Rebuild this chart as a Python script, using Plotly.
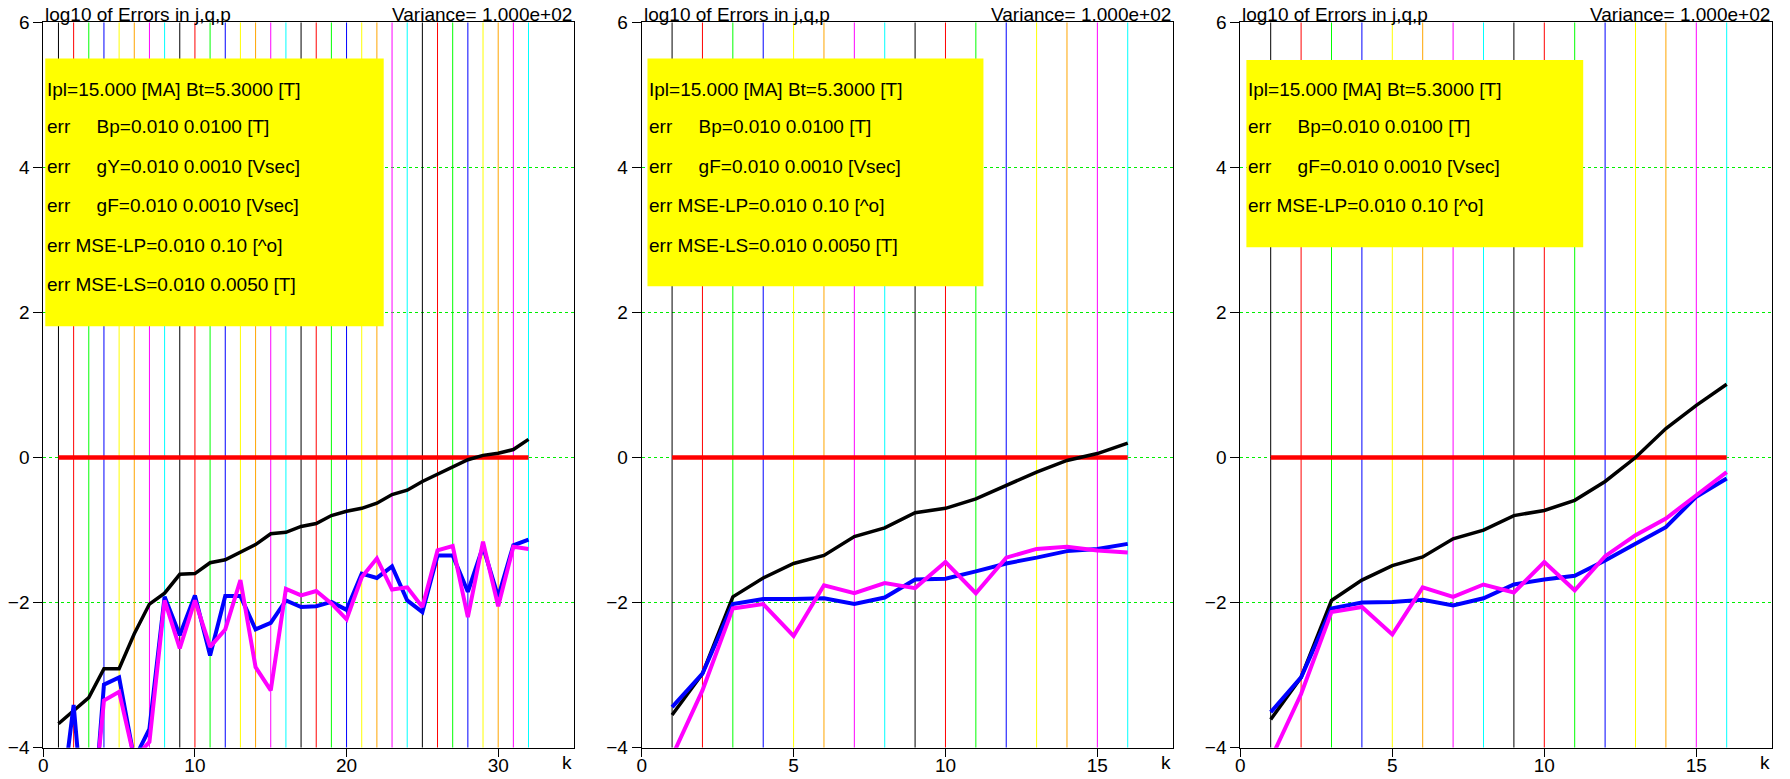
import plotly.graph_objects as go

# ---------------- data ----------------
K1 = list(range(1, 33))
K2 = list(range(1, 17))
K3 = list(range(1, 17))

BLACK1 = [-3.67, -3.49, -3.31, -2.91, -2.91, -2.43, -2.02, -1.87, -1.61, -1.60, -1.45, -1.41,
          -1.30, -1.20, -1.05, -1.03, -0.95, -0.91, -0.80, -0.74, -0.70, -0.63, -0.51, -0.45,
          -0.33, -0.23, -0.13, -0.03, 0.03, 0.06, 0.11, 0.25]
BLUE1 = [-5.1, -3.41, -5.8, -3.13, -3.03, -4.16, -3.74, -1.92, -2.45, -1.90, -2.73, -1.91,
         -1.91, -2.37, -2.28, -1.97, -2.06, -2.05, -1.99, -2.10, -1.60, -1.66, -1.50, -1.97,
         -2.13, -1.35, -1.35, -1.85, -1.23, -1.92, -1.21, -1.13]
MAG1 = [-5.5, -4.8, -5.5, -3.35, -3.23, -4.15, -3.92, -1.97, -2.63, -1.97, -2.61, -2.37,
        -1.69, -2.89, -3.21, -1.81, -1.90, -1.84, -2.01, -2.23, -1.65, -1.39, -1.82, -1.79,
        -2.06, -1.28, -1.22, -2.20, -1.16, -2.05, -1.23, -1.26]

BLACK2 = [-3.55, -2.98, -1.92, -1.66, -1.46, -1.35, -1.09, -0.97, -0.76, -0.70, -0.57, -0.38,
          -0.20, -0.04, 0.055, 0.20]
BLUE2 = [-3.44, -2.98, -2.02, -1.95, -1.95, -1.94, -2.02, -1.93, -1.68, -1.67, -1.57, -1.46,
         -1.38, -1.29, -1.26, -1.19]
MAG2 = [-4.12, -3.21, -2.08, -2.02, -2.46, -1.76, -1.87, -1.73, -1.80, -1.44, -1.87, -1.38,
        -1.26, -1.23, -1.28, -1.31]

BLACK3 = [-3.61, -3.03, -1.97, -1.69, -1.49, -1.37, -1.12, -1.00, -0.80, -0.73, -0.59, -0.33,
          0.0, 0.40, 0.72, 1.01]
BLUE3 = [-3.51, -3.03, -2.08, -2.00, -1.99, -1.96, -2.04, -1.94, -1.75, -1.68, -1.63, -1.42,
         -1.19, -0.96, -0.54, -0.29]
MAG3 = [-4.16, -3.26, -2.13, -2.06, -2.44, -1.79, -1.92, -1.75, -1.86, -1.44, -1.83, -1.36,
        -1.07, -0.84, -0.52, -0.20]

REF_LEVEL = 0.0

TITLE_LEFT = "log10 of Errors in j,q,p"
TITLE_RIGHT = "Variance= 1.000e+02"
NB = "\u00a0"
INFO1 = ["Ipl=15.000 [MA] Bt=5.3000 [T]",
         "err" + NB * 5 + "Bp=0.010 0.0100 [T]",
         "err" + NB * 5 + "gY=0.010 0.0010 [Vsec]",
         "err" + NB * 5 + "gF=0.010 0.0010 [Vsec]",
         "err MSE-LP=0.010 0.10 [^o]",
         "err MSE-LS=0.010 0.0050 [T]"]
INFO2 = ["Ipl=15.000 [MA] Bt=5.3000 [T]",
         "err" + NB * 5 + "Bp=0.010 0.0100 [T]",
         "err" + NB * 5 + "gF=0.010 0.0010 [Vsec]",
         "err MSE-LP=0.010 0.10 [^o]",
         "err MSE-LS=0.010 0.0050 [T]"]
INFO3 = ["Ipl=15.000 [MA] Bt=5.3000 [T]",
         "err" + NB * 5 + "Bp=0.010 0.0100 [T]",
         "err" + NB * 5 + "gF=0.010 0.0010 [Vsec]",
         "err MSE-LP=0.010 0.10 [^o]"]

XTICKS1 = [0, 10, 20, 30]
XTICKS23 = [0, 5, 10, 15]
YTICKS = [-4, -2, 0, 2, 4, 6]

# ---------------- styling / layout ----------------
W, H = 1790, 779
FONT = "Liberation Sans, Arial, sans-serif"
FS = 19
VCOLORS = ["#000000", "#ff0000", "#00ff00", "#0000ff", "#ffff00", "#ffa500", "#ff00ff", "#00ffff"]

Y_TOP_PX, Y_BOT_PX = 22.3, 747.7
YDOM = [1 - Y_BOT_PX / H, 1 - Y_TOP_PX / H]
XDOMS = [[43.3 / W, 574.0 / W], [641.7 / W, 1173.3 / W], [1240.3 / W, 1772.3 / W]]
XRANGES = [[0, 35], [0, 17.5], [0, 17.5]]
YRANGE = [-4, 6]

panels = [
    dict(k=K1, black=BLACK1, blue=BLUE1, mag=MAG1, info=INFO1, xt=XTICKS1,
         box=(0.13, 22.45, 1.81, 5.50)),
    dict(k=K2, black=BLACK2, blue=BLUE2, mag=MAG2, info=INFO2, xt=XTICKS23,
         box=(0.19, 11.25, 2.36, 5.50)),
    dict(k=K3, black=BLACK3, blue=BLUE3, mag=MAG3, info=INFO3, xt=XTICKS23,
         box=(0.2, 11.28, 2.90, 5.48)),
]
LINE_Y = [5.07, 4.56, 4.015, 3.47, 2.925, 2.38]

fig = go.Figure()
shapes = []
annotations = []
layout = {}

for i, p in enumerate(panels):
    n = "" if i == 0 else str(i + 1)
    xa, ya = "x" + n, "y" + n
    # vertical coloured lines, one trace per colour
    for c_idx, col in enumerate(VCOLORS):
        xs, ys = [], []
        for j, kv in enumerate(p["k"]):
            if j % len(VCOLORS) == c_idx:
                xs += [kv, kv, None]
                ys += [YRANGE[0], YRANGE[1], None]
        fig.add_trace(go.Scatter(x=xs, y=ys, mode="lines", xaxis=xa, yaxis=ya,
                                 line=dict(color=col, width=1), hoverinfo="skip",
                                 showlegend=False))
    fig.add_trace(go.Scatter(x=p["k"], y=[REF_LEVEL] * len(p["k"]), mode="lines",
                             xaxis=xa, yaxis=ya, line=dict(color="#ff0000", width=4.5),
                             showlegend=False))
    fig.add_trace(go.Scatter(x=p["k"], y=p["black"], mode="lines", xaxis=xa, yaxis=ya,
                             line=dict(color="#000000", width=3.5), showlegend=False))
    fig.add_trace(go.Scatter(x=p["k"], y=p["blue"], mode="lines", xaxis=xa, yaxis=ya,
                             line=dict(color="#0000ff", width=4), showlegend=False))
    fig.add_trace(go.Scatter(x=p["k"], y=p["mag"], mode="lines", xaxis=xa, yaxis=ya,
                             line=dict(color="#ff00ff", width=4), showlegend=False))

    layout["xaxis" + n] = dict(domain=XDOMS[i], range=XRANGES[i], anchor=ya, automargin=False,
                               tickmode="array", tickvals=p["xt"], ticks="outside",
                               ticklen=8, tickcolor="black", showline=True, linecolor="black",
                               linewidth=1, mirror=True, showgrid=False, zeroline=False,
                               ticklabelstandoff=-8,
                               tickfont=dict(size=FS, color="black", family=FONT))
    layout["yaxis" + n] = dict(domain=YDOM, range=YRANGE, anchor=xa, automargin=False,
                               tickmode="array", tickvals=YTICKS, ticks="outside",
                               ticklen=9, tickcolor="black", showline=True, linecolor="black",
                               linewidth=1, mirror=True, showgrid=True, gridcolor="#00ee00",
                               griddash="dot", gridwidth=1, zeroline=False,
                               tickfont=dict(size=FS, color="black", family=FONT))

    bx0, bx1, by0, by1 = p["box"]
    shapes.append(dict(type="rect", xref=xa, yref=ya, x0=bx0, x1=bx1, y0=by0, y1=by1,
                       fillcolor="#ffff00", line=dict(width=0), layer="above"))
    for li, txt in enumerate(p["info"]):
        annotations.append(dict(text=txt, xref=xa, yref=ya, x=bx0, y=LINE_Y[li],
                                xanchor="left", yanchor="middle", showarrow=False,
                                font=dict(size=FS, color="black", family=FONT)))
    # titles above plot
    annotations.append(dict(text=TITLE_LEFT, xref="paper", yref="paper", x=XDOMS[i][0],
                            y=YDOM[1], xanchor="left", yanchor="bottom", yshift=-5,
                            showarrow=False, font=dict(size=FS, color="black", family=FONT)))
    annotations.append(dict(text=TITLE_RIGHT, xref="paper", yref="paper", x=XDOMS[i][1],
                            y=YDOM[1], xanchor="right", yanchor="bottom", yshift=-5,
                            showarrow=False, font=dict(size=FS, color="black", family=FONT)))
    annotations.append(dict(text="k", xref="paper", yref="paper", x=XDOMS[i][1],
                            y=YDOM[0], xanchor="right", yanchor="top", yshift=-2,
                            showarrow=False, font=dict(size=FS, color="black", family=FONT)))

fig.update_layout(width=W, height=H, margin=dict(l=0, r=0, t=0, b=0, autoexpand=False),
                  paper_bgcolor="white", plot_bgcolor="white", showlegend=False,
                  font=dict(family=FONT, size=FS, color="black"),
                  shapes=shapes, annotations=annotations, **layout)

fig.write_html("out.html")
